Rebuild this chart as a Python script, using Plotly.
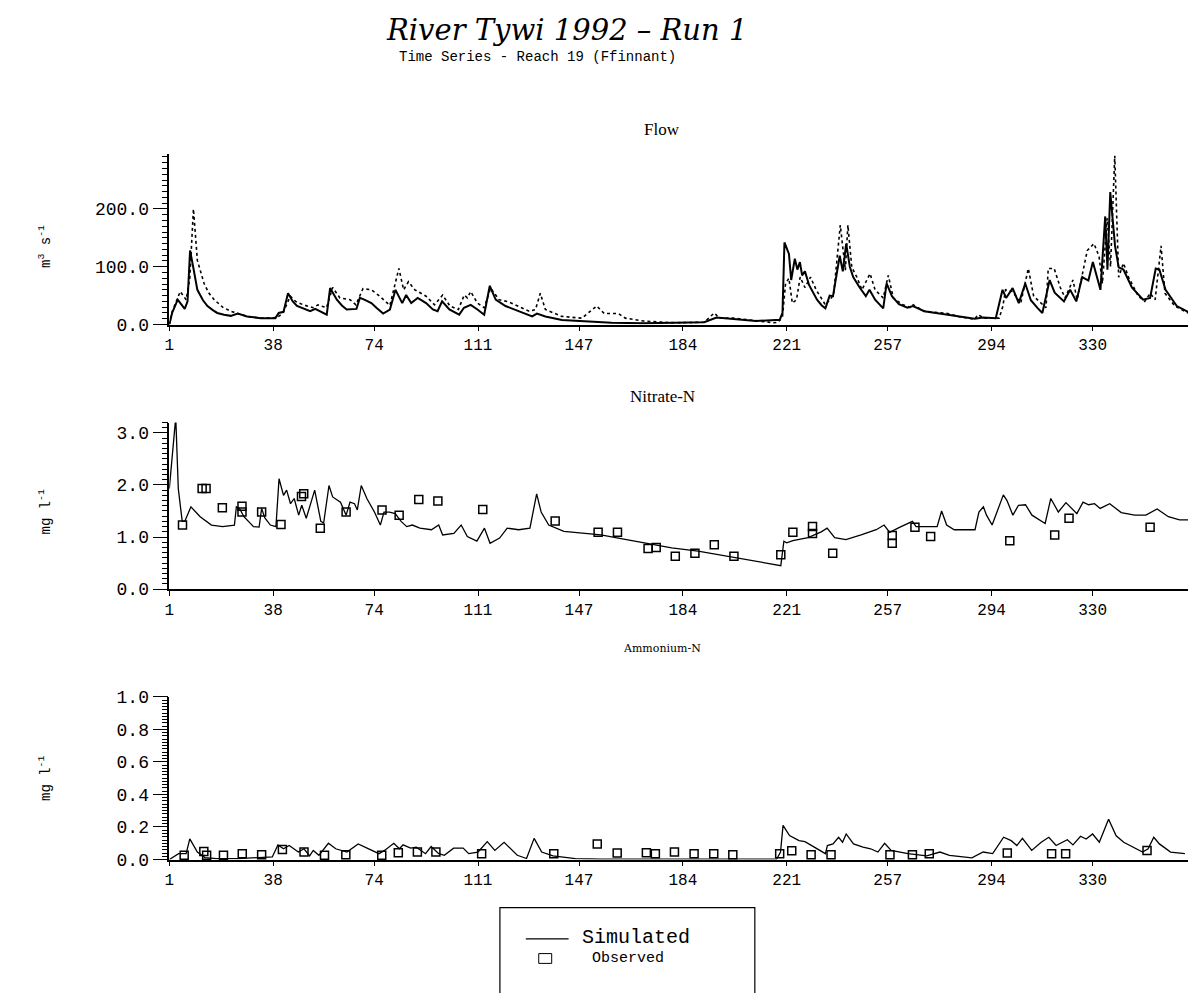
import plotly.graph_objects as go

# ---------------- data ----------------
# Flow (m3 s-1): simulated and observed, day of year vs value
flow_sim_day = [1, 2, 4, 6.5, 7.5, 8.4, 9.5, 11, 13, 14.6, 16.5, 18.1, 20.5, 22.9, 25.4, 28.7, 33.5, 38.8,
                40, 41.7, 43.3, 45, 46.5, 51.2, 53, 54.8, 57.1, 58.3, 60.7, 62.5, 64.2, 67.7, 68.9, 70.5,
                73, 75, 77.2, 79.6, 81.6, 84, 85.4, 87.2, 89.5, 92.5, 94.9, 96.6, 98.2, 100.8, 104.3, 106,
                108.4, 110.8, 113.2, 115.2, 117.3, 120.8, 125.6, 130.3, 132, 135, 140.9, 148, 158.6, 170,
                181, 191.6, 196, 202, 210, 217, 218.5, 219.5, 220.2, 221.8, 222.6, 223.9, 224.8, 225.7,
                226.5, 227.5, 229, 231.8, 233.5, 234.8, 236.3, 237.5, 239.9, 241, 242.2, 243.5, 244.7,
                247, 249.2, 250.5, 252.5, 255.4, 256.6, 258.5, 261, 264, 266, 270, 278, 288, 291, 295.5,
                297.9, 299.2, 301.5, 303.7, 306, 308, 310.5, 312.1, 314.7, 316.5, 319.8, 322, 324.2,
                326.3, 328.5, 330.1, 332.8, 334.5, 335.3, 336.3, 338, 339.3, 341, 344, 348, 350.5,
                352.5, 353.8, 356, 360, 364]
flow_sim_val = [0, 20, 43, 27, 40, 128, 100, 60, 42, 32, 25, 20, 17, 15, 19, 14, 11, 11,
                20, 22, 54, 40, 32, 23, 27, 23, 17, 63, 43, 33, 26, 27, 46, 43,
                37, 28, 19, 26, 60, 37, 51, 37, 46, 37, 26, 23, 40, 26, 17, 29,
                34, 26, 17, 67, 43, 32, 23, 14, 19, 14, 8, 6, 3, 2,
                3, 4, 12, 9, 6, 8, 8, 20, 142, 122, 77, 114, 95, 108,
                85, 92, 68, 43, 33, 28, 50, 49, 119, 92, 140, 100, 82,
                64, 49, 60, 43, 28, 71, 49, 35, 29, 32, 23, 17, 10, 12, 11,
                60, 46, 63, 37, 71, 42, 28, 20, 77, 55, 40, 60, 40,
                82, 76, 108, 60, 187, 95, 229, 136, 99, 95, 64, 43, 46,
                97, 95, 60, 32, 22]

flow_obs_day = [1, 2, 4.9, 7, 8.3, 9.6, 11, 13.4, 15, 17, 20, 22.9, 28.7, 33.5, 39.4, 41.5, 44.1, 46,
                48.8, 52.3, 54, 57, 59.2, 61.8, 65.4, 67.5, 70, 73, 76, 79.6, 82.8, 84.5, 86.2, 88.5,
                92.5, 95.5, 98.4, 101, 104, 106.1, 107.2, 108.4, 110.8, 113.2, 115.5, 118.5, 122,
                125.6, 129.2, 131.5, 133.2, 135, 140.9, 148, 153.3, 156, 161, 163.5, 170, 181, 191.6,
                195.2, 197, 202, 209, 216.5, 218, 219.5, 220.6, 221.8, 223, 224.5, 225.8, 227.5, 229.5,
                231.5, 234.8, 237.7, 240.1, 241.9, 242.8, 244.2, 246, 247.8, 250.7, 252.5, 255.4,
                257.2, 259, 262, 265.2, 266.1, 270, 278.4, 282, 288, 289.1, 291.5, 296.7, 298, 299,
                301.5, 304.4, 307.1, 309, 313.4, 314.2, 316.3, 318.5, 320.2, 323, 324.5, 326.4, 328.1,
                330.5, 332.3, 333.5, 335.2, 336.4, 337.9, 339.3, 341, 342.8, 346.3, 348.6, 350.5,
                352.3, 354.4, 355.8, 359.3, 364]
flow_obs_val = [0, 22, 57, 43, 80, 200, 111, 71, 55, 43, 30, 23, 14, 11, 12, 20, 49, 40,
                34, 29, 34, 29, 64, 46, 43, 34, 62, 60, 49, 33, 97, 60, 74, 60,
                49, 34, 51, 32, 26, 51, 46, 57, 37, 29, 63, 43, 39,
                31, 23, 26, 54, 26, 14, 11, 32, 19, 19, 11, 6, 3, 4,
                20, 11, 11, 7, 3, 4, 14, 71, 80, 37, 43, 82, 64, 82,
                60, 34, 51, 172, 94, 172, 99, 82, 60, 88, 60, 46,
                85, 46, 35, 29, 34, 23, 19, 14, 9, 17, 11, 11, 31, 60,
                57, 37, 97, 49, 29, 97, 97, 64, 46, 77, 43, 88, 128,
                140, 118, 71, 184, 100, 292, 82, 106, 82, 49, 40, 54,
                43, 136, 54, 32, 20]

# Nitrate-N (mg l-1)
no3_sim_day = [1, 2.3, 3.3, 4.2, 5.6, 6.5, 8.7, 12, 16, 20, 24.2, 24.9, 26, 27.6, 31, 33, 33.9, 35,
               37, 39, 40.1, 41.7, 42.8, 44.2, 45.5, 47.1, 48.2, 49.8, 52.8, 55, 56, 57.9, 59.2, 62,
               64, 65.4, 67, 68, 69.4, 71.4, 74.1, 76.2, 77.5, 79.5, 81.5, 83.6, 85.6, 87.6, 90.3,
               94.4, 97, 98.4, 102.4, 105, 107.2, 110.6, 113.3, 115.3, 118.7, 121.4, 125.5, 129.5,
               131.9, 133.5, 136.2, 141.6, 148.4, 154.8, 161, 170.5, 180, 189.4, 200.2, 209.7,
               218.9, 220, 221, 223.2, 228.6, 233.3, 235.4, 238.1, 242.1, 247.5, 252.9, 255.7,
               257.7, 261, 265.8, 267.1, 271.9, 274.6, 276.2, 278, 280.7, 288.1, 289.5, 291.1,
               292.2, 294.2, 298.2, 299.5, 301.6, 303.6, 306.1, 308.4, 313.1, 315.1, 317.8, 320.5,
               324.4, 326.6, 328.6, 330.7, 332.7, 336.1, 340.2, 345, 349, 351, 353, 357, 361, 364.9]
no3_sim_val = [1.93, 2.75, 3.3, 1.93, 1.3, 1.3, 1.58, 1.39, 1.23, 1.2, 1.23, 1.58, 1.55, 1.39, 1.2,
               1.19, 1.55, 1.37, 1.23, 1.2, 2.12, 1.8, 1.9, 1.64, 1.74, 1.42, 1.61, 1.36, 1.9, 1.3,
               1.27, 1.99, 1.77, 1.67, 1.42, 1.67, 1.64, 1.52, 1.99, 1.74, 1.48, 1.23, 1.48, 1.48,
               1.45, 1.3, 1.2, 1.23, 1.17, 1.14, 1.23, 1.04, 1.07, 1.23, 1.01, 0.92, 1.17, 0.88,
               0.98, 1.17, 1.14, 1.17, 1.83, 1.48, 1.23, 1.11, 1.07, 1.04, 0.98, 0.88, 0.79, 0.73,
               0.63, 0.54, 0.45, 0.92, 0.89, 0.93, 0.99, 1.1, 1.17, 0.99, 0.95, 1.04, 1.14, 1.23,
               1.09, 1.18, 1.3, 1.2, 1.2, 1.2, 1.5, 1.23, 1.14, 1.14, 1.48, 1.58, 1.42, 1.23, 1.81,
               1.7, 1.42, 1.61, 1.62, 1.42, 1.26, 1.74, 1.48, 1.66, 1.45, 1.67, 1.62, 1.64, 1.55,
               1.64, 1.47, 1.42, 1.42, 1.48, 1.54, 1.39, 1.33, 1.33]

no3_obs_day = [5.7, 12.7, 14.1, 19.9, 26.9, 26.9, 33.9, 40.8, 48.1, 48.9, 54.8, 64, 76.8, 82.9, 89.9,
               96.7, 112.7, 138.5, 153.8, 160.7, 171.6, 174.5, 181.3, 188.3, 195.2, 202.2, 218.9,
               223.2, 230.2, 230.2, 237.4, 258.6, 258.6, 266.7, 272.3, 300.5, 316.5, 321.6, 350.5]
no3_obs_val = [1.23, 1.93, 1.93, 1.56, 1.59, 1.48, 1.48, 1.24, 1.78, 1.83, 1.17, 1.48, 1.52, 1.42,
               1.72, 1.69, 1.53, 1.31, 1.09, 1.09, 0.78, 0.8, 0.63, 0.69, 0.85, 0.63, 0.66,
               1.09, 1.2, 1.07, 0.69, 1.03, 0.88, 1.19, 1.01, 0.93, 1.04, 1.36, 1.19]

# Ammonium-N (mg l-1)
nh4_sim_day = [1, 4.3, 7, 8.3, 11, 13.7, 17.7, 25.7, 37.7, 39.7, 41.7, 43.7, 47, 49, 51, 52.3, 54.3,
               57.7, 60.3, 64.3, 68.3, 71.7, 75.7, 77.7, 81, 83, 84.3, 87, 89, 92.3, 94.3, 97, 99,
               102.3, 105.7, 107.7, 111, 114.3, 117, 120.3, 125, 128.3, 131, 133.7, 137.7, 145.7,
               154.7, 180, 200, 217.4, 218.8, 219.7, 222, 224, 225.4, 227.5, 230.8, 234.8, 235.5,
               237.5, 239.5, 240.9, 242.2, 244.8, 248.2, 250.9, 253.5, 255.9, 258.2, 264.2, 270.9,
               275.6, 279, 287, 291, 294.4, 298.3, 301, 303, 305, 308.3, 311.7, 314.4, 317, 321,
               323, 325.7, 327.7, 330, 332.4, 335.7, 338.4, 341.1, 344.4, 347.8, 349.8, 351.8,
               353.8, 357.8, 362.9]
nh4_sim_val = [0.0, 0.036, 0.036, 0.127, 0.046, 0.012, 0.006, 0.006, 0.016, 0.09, 0.066, 0.086,
               0.046, 0.066, 0.022, 0.056, 0.026, 0.1, 0.066, 0.046, 0.096, 0.07, 0.036, 0.056, 0.1,
               0.066, 0.09, 0.07, 0.076, 0.036, 0.08, 0.036, 0.026, 0.07, 0.07, 0.036, 0.046, 0.11,
               0.056, 0.106, 0.026, 0.006, 0.13, 0.046, 0.022, 0.006, 0.002, 0.002, 0.002, 0.002,
               0.046, 0.21, 0.147, 0.13, 0.116, 0.11, 0.076, 0.036, 0.086, 0.096, 0.137, 0.106,
               0.157, 0.096, 0.076, 0.066, 0.046, 0.1, 0.056, 0.036, 0.022, 0.046, 0.026, 0.01,
               0.046, 0.036, 0.137, 0.116, 0.086, 0.13, 0.056, 0.106, 0.137, 0.086, 0.122, 0.09,
               0.143, 0.126, 0.157, 0.106, 0.247, 0.146, 0.106, 0.076, 0.046, 0.066, 0.137, 0.096,
               0.046, 0.036]

nh4_obs_day = [6.3, 13.3, 14.3, 20.3, 27, 33.9, 41.3, 49, 56.3, 63.9, 76.7, 82.6, 89.4, 96, 112.3, 138,
               153.5, 160.6, 171, 174.2, 181, 188, 195, 201.8, 218.5, 222.8, 229.7, 236.8, 257.8,
               265.8, 271.8, 299.6, 315.4, 320.4, 349.4]
nh4_obs_val = [0.026, 0.05, 0.026, 0.026, 0.036, 0.03, 0.062, 0.046, 0.026, 0.03, 0.026, 0.042, 0.046,
               0.046, 0.036, 0.036, 0.096, 0.04, 0.042, 0.036, 0.046, 0.036, 0.036, 0.03, 0.036,
               0.054, 0.03, 0.03, 0.03, 0.03, 0.036, 0.04, 0.036, 0.036, 0.056]

day_ticks = [1, 38, 74, 111, 147, 184, 221, 257, 294, 330]
flow_ticks = [0, 100, 200]
flow_ticktext = ["0.0", "100.0", "200.0"]
no3_ticks = [0, 1, 2, 3]
no3_ticktext = ["0.0", "1.0", "2.0", "3.0"]
nh4_ticks = [0, 0.2, 0.4, 0.6, 0.8, 1.0]
nh4_ticktext = ["0.0", "0.2", "0.4", "0.6", "0.8", "1.0"]

# ---------------- layout helpers ----------------
W, H = 1188, 993


def fx(p):
    return p / W


def fy(p):
    return 1 - p / H


MONO = "Liberation Mono"
SERIF = "Liberation Serif"
INK = "black"

fig = go.Figure()

line_sim = dict(color=INK, width=1.3)
fig.add_trace(go.Scatter(x=flow_obs_day, y=flow_obs_val, mode="lines",
                         line=dict(color=INK, width=1.6, dash="dot"), xaxis="x", yaxis="y"))
fig.add_trace(go.Scatter(x=flow_sim_day, y=flow_sim_val, mode="lines",
                         line=dict(color=INK, width=2.0), xaxis="x", yaxis="y"))
fig.add_trace(go.Scatter(x=no3_sim_day, y=no3_sim_val, mode="lines", line=line_sim,
                         xaxis="x2", yaxis="y2"))
fig.add_trace(go.Scatter(x=no3_obs_day, y=no3_obs_val, mode="markers",
                         marker=dict(symbol="square-open", size=8, color=INK, line=dict(width=1.5)),
                         xaxis="x2", yaxis="y2", cliponaxis=False))
fig.add_trace(go.Scatter(x=nh4_sim_day, y=nh4_sim_val, mode="lines", line=line_sim,
                         xaxis="x3", yaxis="y3"))
fig.add_trace(go.Scatter(x=nh4_obs_day, y=nh4_obs_val, mode="markers",
                         marker=dict(symbol="square-open", size=8, color=INK, line=dict(width=1.5)),
                         xaxis="x3", yaxis="y3", cliponaxis=False))

x_left = 165
x_dom = [fx(x_left), 1.0]
xrange_ = [1, 364]


def xaxis(anchor):
    return dict(domain=x_dom, range=xrange_, anchor=anchor, tickmode="array", tickvals=day_ticks,
                ticks="outside", ticklen=5, tickwidth=1.2, tickcolor=INK,
                showline=True, linecolor=INK, linewidth=1.5, showgrid=False, zeroline=False,
                tickfont=dict(family=MONO, size=16, color=INK))


def yaxis(anchor, dom, rng, vals, text, minor_step):
    return dict(domain=dom, range=rng, anchor=anchor, tickmode="array", tickvals=vals, ticktext=text,
                ticks="outside", ticklen=15, tickwidth=1.2, tickcolor=INK,
                minor=dict(dtick=minor_step, ticks="outside", ticklen=6, tickwidth=1, tickcolor=INK),
                showline=True, linecolor=INK, linewidth=1.5, showgrid=False, zeroline=False,
                tickfont=dict(family=MONO, size=18, color=INK))


fig.update_layout(
    width=W, height=H, margin=dict(l=0, r=0, t=0, b=0),
    paper_bgcolor="white", plot_bgcolor="white", showlegend=False,
    xaxis=xaxis("y"),
    xaxis2=xaxis("y2"),
    xaxis3=xaxis("y3"),
    yaxis=yaxis("x", [fy(322), fy(148)], [0, 295], flow_ticks, flow_ticktext, 10),
    yaxis2=yaxis("x2", [fy(592), fy(422)], [0, 3.2], no3_ticks, no3_ticktext, 0.1),
    yaxis3=yaxis("x3", [fy(868), fy(702)], [0, 1.0], nh4_ticks, nh4_ticktext, 0.02),
)

ann = []


def text(x, y, s, size, family, anchor="center", angle=0, **kw):
    ann.append(dict(x=fx(x), y=fy(y), xref="paper", yref="paper", text=s, showarrow=False,
                    xanchor=anchor, yanchor="middle", textangle=angle,
                    font=dict(family=family, size=size, color=INK, **kw)))


text(564, 21, "<i>River Tywi 1992 – Run 1</i>", 29, "DejaVu Serif")
text(535, 49, "Time Series - Reach 19 (Ffinnant)", 14, MONO)
text(660, 123, "Flow", 17, SERIF)
text(660, 395, "Nitrate-N", 17, SERIF)
text(660, 653, "Ammonium-N", 11, "DejaVu Serif")
text(40, 242, "m<sup>3</sup> s<sup>-1</sup>", 14, MONO, angle=-90)
text(40, 513, "mg l<sup>-1</sup>", 14, MONO, angle=-90)
text(40, 785, "mg l<sup>-1</sup>", 14, MONO, angle=-90)

# legend box
text(577, 948, "Simulated", 20, MONO, anchor="left")
text(587, 969, "Observed", 15, MONO, anchor="left")
fig.update_layout(annotations=ann)

shapes = [
    dict(type="rect", xref="paper", yref="paper", x0=fx(497), x1=fx(753), y0=fy(1010), y1=fy(917),
         line=dict(color=INK, width=1.2)),
    dict(type="line", xref="paper", yref="paper", x0=fx(523), x1=fx(566), y0=fy(949), y1=fy(949),
         line=dict(color=INK, width=1.3)),
    dict(type="rect", xref="paper", yref="paper", x0=fx(536), x1=fx(549), y0=fy(974), y1=fy(964),
         line=dict(color=INK, width=1)),
]
fig.update_layout(shapes=shapes)

fig.write_html("out.html")
